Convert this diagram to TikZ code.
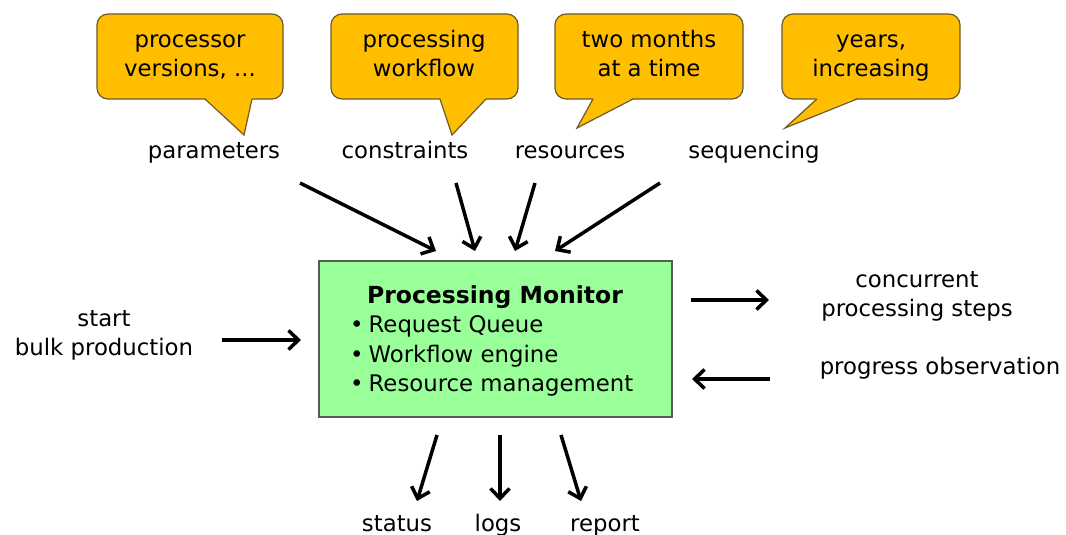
\documentclass[tikz,border=0pt]{standalone}
\usepackage{fontspec}
\setmainfont{DejaVu Sans}
\usetikzlibrary{arrows.meta}
\definecolor{calloutfill}{RGB}{255,190,0}
\definecolor{calloutline}{RGB}{110,90,40}
\definecolor{boxfill}{RGB}{153,255,153}
\definecolor{boxline}{RGB}{80,95,80}
\tikzset{
  lbl/.style={font=\fontsize{22.8}{29}\selectfont, anchor=base, inner sep=0pt},
  ctext/.style={font=\fontsize{22.8}{29}\selectfont, align=center, inner sep=0pt, anchor=base},
  callout/.style={fill=calloutfill, draw=calloutline, line width=1.2pt, line join=round},
  tailfill/.style={fill=calloutfill},
  tailline/.style={draw=calloutline, line width=1.2pt, line join=miter},
  flow/.style={line width=3.5pt, -{Straight Barb[length=10pt,width=19pt,line width=3.5pt]}},
}
\begin{document}
\begin{tikzpicture}[x=1pt,y=-1pt]
\useasboundingbox (0,0) rectangle (1066,535);
% callouts
\draw[callout, rounded corners=11pt] (97,14) rectangle (283,99);
\fill[tailfill] (205,98) -- (244,135) -- (252,98) -- cycle;
\draw[tailline] (205,99) -- (244,135) -- (252,99);
\draw[callout, rounded corners=11pt] (331,14) rectangle (518,99);
\fill[tailfill] (440,98) -- (452,135) -- (486,98) -- cycle;
\draw[tailline] (440,99) -- (452,135) -- (486,99);
\draw[callout, rounded corners=11pt] (555,14) rectangle (743,99);
\fill[tailfill] (593,98) -- (577,128) -- (633,98) -- cycle;
\draw[tailline] (593,99) -- (577,128) -- (633,99);
\draw[callout, rounded corners=11pt] (782,14) rectangle (960,99);
\fill[tailfill] (817,98) -- (785,128) -- (857,98) -- cycle;
\draw[tailline] (817,99) -- (785,128) -- (857,99);
\node[ctext] (c1) at (190,77) {processor\\versions, ...};
\node[ctext] (c2) at (424,77) {processing\\workflow};
\node[ctext] (c3) at (649,77) {two months\\at a time};
\node[ctext] (c4) at (871,77) {years,\\increasing};
% top labels
\node[lbl] (params) at (214,158) {parameters};
\node[lbl] (constr) at (405,158) {constraints};
\node[lbl] (resrc) at (570,158) {resources};
\node[lbl] (seq) at (754,158) {sequencing};
% main box
\node[draw=boxline, fill=boxfill, line width=1.2pt, minimum width=353pt, minimum height=156pt, inner sep=0pt] (pm) at (495.5,339) {};
\node[lbl, font=\fontsize{23.5}{29}\selectfont\bfseries] (title) at (495,303) {Processing Monitor};
\node[lbl, anchor=base west] (i1) at (350,332) {•\hspace{5pt}Request Queue};
\node[lbl, anchor=base west] (i2) at (350,362) {•\hspace{5pt}Workflow engine};
\node[lbl, anchor=base west] (i3) at (350,391) {•\hspace{5pt}Resource management};
% side labels
\node[ctext] (start) at (104,355) {start\\bulk production};
\node[ctext] (conc) at (917,316) {concurrent\\processing steps};
\node[lbl] (prog) at (940,374) {progress observation};
% bottom labels
\node[lbl] (status) at (397,531) {status};
\node[lbl] (logs) at (498,531) {logs};
\node[lbl] (report) at (605,531) {report};
% arrow end coordinates
\coordinate (a1s) at (300,183); \coordinate (a1e) at (436,251);
\coordinate (a2s) at (456,183); \coordinate (a2e) at (475,251);
\coordinate (a3s) at (535,183); \coordinate (a3e) at (515,251);
\coordinate (a4s) at (660,183); \coordinate (a4e) at (555,251);
\coordinate (ls) at (222,340); \coordinate (le) at (301,340);
\coordinate (r1s) at (691,300); \coordinate (r1e) at (769,300);
\coordinate (r2s) at (770,379); \coordinate (r2e) at (692,379);
\coordinate (b1s) at (437,435); \coordinate (b1e) at (417,501);
\coordinate (b2s) at (500,435); \coordinate (b2e) at (500,501);
\coordinate (b3s) at (561,435); \coordinate (b3e) at (581,501);
\draw[flow] (a1s) -- (a1e);
\draw[flow] (a2s) -- (a2e);
\draw[flow] (a3s) -- (a3e);
\draw[flow] (a4s) -- (a4e);
\draw[flow] (ls) -- (le);
\draw[flow] (r1s) -- (r1e);
\draw[flow] (r2s) -- (r2e);
\draw[flow] (b1s) -- (b1e);
\draw[flow] (b2s) -- (b2e);
\draw[flow] (b3s) -- (b3e);
\end{tikzpicture}
\end{document}
